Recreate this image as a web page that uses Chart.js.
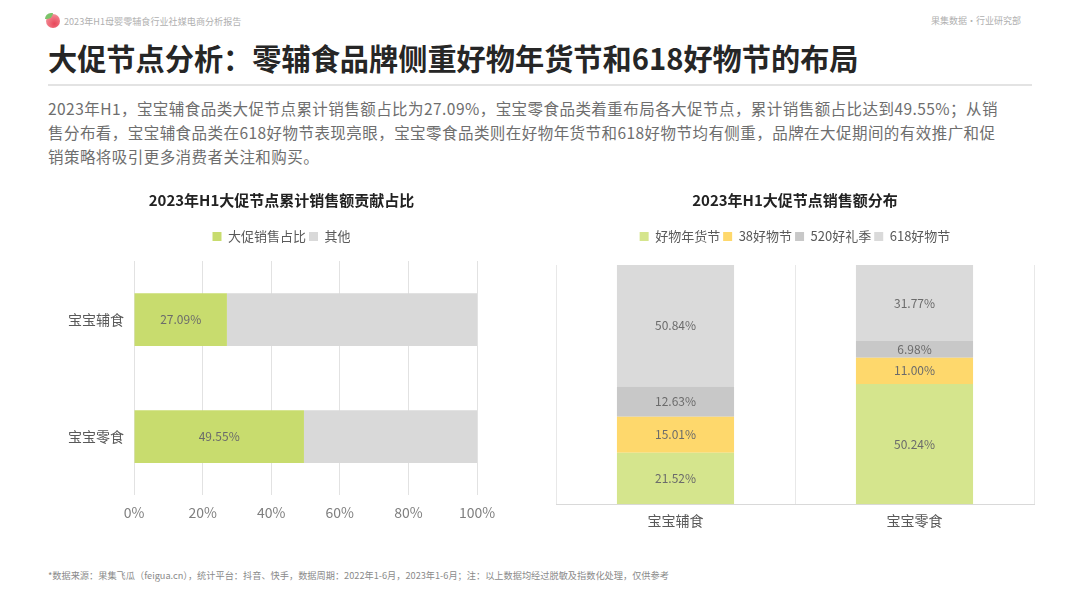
<!DOCTYPE html>
<html>
<head>
<meta charset="utf-8">
<script src="https://cdn.jsdelivr.net/npm/chart.js@4"></script>
<style>
  body { margin: 0; width: 1080px; height: 607px; background: #fff; position: relative; overflow: hidden;
         font-family: "Noto Sans CJK SC", "Noto Sans", sans-serif; }
  .abs { position: absolute; white-space: nowrap; }
  #logo { left: 46px; top: 14px; width: 14px; height: 14px; border-radius: 50%;
          background: radial-gradient(circle at 60% 70%, #e8475a 0%, #f07a86 55%, #f6b3ba 100%); }
  #leaf { left: 45px; top: 13px; width: 8px; height: 6px; border-radius: 6px 0 6px 0; background: #7cc36b; }
  #head { left: 64px; top: 14px; font-size: 9.1px; color: #b0b0b0; line-height: 14px; }
  #org { left: 931px; top: 14px; font-size: 9px; color: #b0b0b0; line-height: 14px; }
  #title { left: 48px; top: 38px; font-size: 29.2px; font-weight: bold; color: #262626; line-height: 38px; }
  #rule { left: 48px; top: 84px; width: 984px; height: 2px; background: #e3e3e3; }
  #desc { left: 48px; top: 96px; font-size: 15.5px; color: #6e6e6e; line-height: 24px; letter-spacing: 0.45px; }
  #foot { left: 48px; top: 569px; font-size: 9.2px; color: #8a8a8a; line-height: 12px; }
  .box { position: absolute; }
</style>
</head>
<body>
<div id="logo" class="abs"></div>
<div id="leaf" class="abs"></div>
<div id="head" class="abs">2023年H1母婴零辅食行业社媒电商分析报告</div>
<div id="org" class="abs">果集数据·行业研究部</div>
<div id="title" class="abs">大促节点分析：零辅食品牌侧重好物年货节和618好物节的布局</div>
<div id="rule" class="abs"></div>
<div id="desc" class="abs">2023年H1，宝宝辅食品类大促节点累计销售额占比为27.09%，宝宝零食品类着重布局各大促节点，累计销售额占比达到49.55%；从销<br>售分布看，宝宝辅食品类在618好物节表现亮眼，宝宝零食品类则在好物年货节和618好物节均有侧重，品牌在大促期间的有效推广和促<br>销策略将吸引更多消费者关注和购买。</div>
<div class="box" style="left:40px;top:180px;width:500px;height:360px;"><canvas id="left"></canvas></div>
<div class="box" style="left:540px;top:180px;width:540px;height:360px;"><canvas id="right"></canvas></div>
<div id="foot" class="abs">*数据来源：果集飞瓜（feigua.cn），统计平台：抖音、快手，数据周期：2022年1-6月，2023年1-6月；注：以上数据均经过脱敏及指数化处理，仅供参考</div>

<script>
// data
const categories = ["宝宝辅食", "宝宝零食"]
const promoShare = [27.09, 49.55]
const otherShare = [72.91, 50.45]
const xTicks = [0, 20, 40, 60, 80, 100]

const nianhuo = [21.52, 50.24]
const fest38 = [15.01, 11.00]
const fest520 = [12.63, 6.98]
const fest618 = [50.84, 31.77]

const FONT = '"Noto Sans CJK SC", "Noto Sans", sans-serif'
Chart.defaults.font.family = FONT
Chart.defaults.color = "#595959"

// writes the value in the middle of each segment
const segLabels = {
  id: "segLabels",
  afterDatasetsDraw(chart) {
    const ctx = chart.ctx
    ctx.save()
    ctx.font = "12px " + FONT
    ctx.fillStyle = "#6b6b6b"
    ctx.textAlign = "center"
    ctx.textBaseline = "middle"
    chart.data.datasets.forEach((ds, i) => {
      if (ds.noLabel) return
      chart.getDatasetMeta(i).data.forEach((bar, j) => {
        const p = bar.getProps(["x", "y", "base", "horizontal"], true)
        const cx = p.horizontal ? (p.x + p.base) / 2 : p.x
        const cy = p.horizontal ? p.y : (p.y + p.base) / 2
        ctx.fillText(ds.data[j].toFixed(2) + "%", cx, cy)
      })
    })
    ctx.restore()
  }
}

// extra room under the legend, and an optional sideways shift of title + legend
const legendGap = {
  id: "legendGap",
  beforeInit(chart, args, opts) {
    const fit = chart.legend.fit
    chart.legend.fit = function () {
      fit.bind(chart.legend)()
      this.height += opts.gap || 0
    }
  },
  afterLayout(chart, args, opts) {
    const s = opts.shift || 0
    if (!s) return
    chart.titleBlock.left += s
    chart.legend.left += s
  }
}

const titleOpts = (text) => ({
  display: true,
  text: text,
  color: "#222",
  font: { size: 15, weight: "bold" },
  padding: { top: 11, bottom: 18 }
})

const legendOpts = {
  position: "top",
  labels: { boxWidth: 9, boxHeight: 9, padding: 3, color: "#595959", font: { size: 13 } }
}

new Chart(document.getElementById("left"), {
  type: "bar",
  data: {
    labels: categories,
    datasets: [
      { label: "大促销售占比", data: promoShare, backgroundColor: "#c8dc6e" },
      { label: "其他", data: otherShare, backgroundColor: "#d9d9d9", noLabel: true }
    ]
  },
  options: {
    indexAxis: "y",
    responsive: true,
    maintainAspectRatio: false,
    animation: false,
    layout: { padding: { left: 0, right: 63, top: 0, bottom: 10 } },
    datasets: { bar: { categoryPercentage: 1, barPercentage: 0.45 } },
    scales: {
      x: {
        stacked: true,
        min: 0,
        max: 100,
        afterBuildTicks: (s) => { s.ticks = xTicks.map(v => ({ value: v })) },
        ticks: { callback: (v) => v + "%", color: "#7f7f7f", font: { size: 14 }, padding: 9 },
        grid: { color: "#e2e2e2", drawTicks: false },
        border: { display: false }
      },
      y: {
        stacked: true,
        afterFit: (s) => { s.width = 94 },
        ticks: { color: "#595959", font: { size: 14 }, padding: 10 },
        grid: { display: false, drawTicks: false },
        border: { display: false }
      }
    },
    plugins: {
      title: titleOpts("2023年H1大促节点累计销售额贡献占比"),
      legend: legendOpts,
      legendGap: { gap: 8, shift: 46 },
      tooltip: { enabled: false }
    }
  },
  plugins: [segLabels, legendGap]
})

new Chart(document.getElementById("right"), {
  type: "bar",
  data: {
    labels: categories,
    datasets: [
      { label: "好物年货节", data: nianhuo, backgroundColor: "#d5e58d" },
      { label: "38好物节", data: fest38, backgroundColor: "#fed86c" },
      { label: "520好礼季", data: fest520, backgroundColor: "#c8c8c8" },
      { label: "618好物节", data: fest618, backgroundColor: "#dadada" }
    ]
  },
  options: {
    responsive: true,
    maintainAspectRatio: false,
    animation: false,
    layout: { padding: { left: 16, right: 46, top: 0, bottom: 3 } },
    datasets: { bar: { categoryPercentage: 1, barPercentage: 0.49 } },
    scales: {
      x: {
        stacked: true,
        ticks: { color: "#595959", font: { size: 14 }, padding: 8 },
        grid: { color: "#e8e8e8", drawTicks: false, offset: true },
        border: { display: true, color: "#d9d9d9" }
      },
      y: {
        stacked: true,
        display: false,
        min: 0,
        max: 100
      }
    },
    plugins: {
      title: titleOpts("2023年H1大促节点销售额分布"),
      legend: legendOpts,
      legendGap: { gap: 12 },
      tooltip: { enabled: false }
    }
  },
  plugins: [segLabels, legendGap]
})
</script>
</body>
</html>
